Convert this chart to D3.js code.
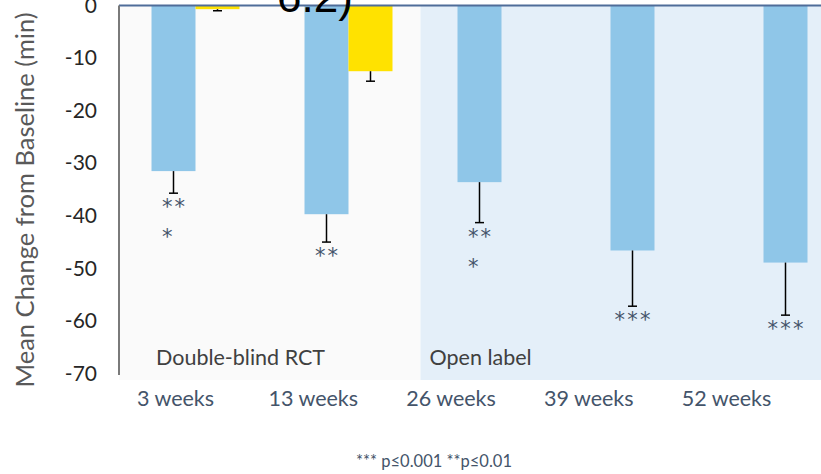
<!DOCTYPE html>
<html>
<head>
<meta charset="utf-8">
<script src="https://cdn.jsdelivr.net/npm/d3@7"></script>
<style>
  html, body { margin: 0; padding: 0; background: #ffffff; }
  svg { display: block; }
  text { font-family: Lato, "Open Sans", sans-serif; }
</style>
</head>
<body>
<svg id="chart" width="821" height="474"></svg>
<script>
// Mean change from baseline (minutes), by visit
const categories = ["3 weeks", "13 weeks", "26 weeks", "39 weeks", "52 weeks"];
const seriesKeys = ["active", "placebo"];
const activeMean = [-31.5, -39.7, -33.6, -46.6, -48.9];
const activeErr  = [4.2, 5.3, 7.7, 10.6, 10.0];
const placeboMean = [-0.7, -12.5, null, null, null];
const placeboErr  = [0.3, 1.9, null, null, null];
// significance markers under each active bar (one entry per text line)
const sigLines = [["**", "*"], ["**"], ["**", "*"], ["***"], ["***"]];
const yTicks = [0, -10, -20, -30, -40, -50, -60, -70];
const phaseLabels = ["Double-blind RCT", "Open label"];
const phaseStarts = ["3 weeks", "26 weeks"];
const footnote = "*** p≤0.001 **p≤0.01";
const titleTail = "6.2)";
const yTitle = "Mean Change from Baseline (min)";

const colors = { active: "#8fc6e8", placebo: "#ffe200" };
const phaseFill = ["#fafafa", "#e4eff9"];

const svg = d3.select("#chart");
const W = 821;

// plot frame (continues past the right edge of the view)
const plotLeft = 119, plotTop = 5.5, plotBottom = 373.5, bgBottom = 380;
const step = 153;

const x = d3.scaleBand()
  .domain(categories)
  .range([plotLeft, plotLeft + step * categories.length])
  .paddingInner(65 / step)
  .paddingOuter(32.5 / step);

const xs = d3.scaleBand()
  .domain(seriesKeys)
  .range([0, x.bandwidth()]);

const y = d3.scaleLinear().domain([0, -70]).range([plotTop, plotBottom]);

// label row under the plot
const xLab = d3.scalePoint().domain(categories).range([175, 726]);

// phase backgrounds
const phaseEdges = phaseStarts.map((c, i) => i === 0 ? plotLeft : x(c) - 37);
svg.append("g").selectAll("rect")
  .data(phaseEdges)
  .join("rect")
  .attr("x", d => d)
  .attr("y", plotTop)
  .attr("width", (d, i) => (i + 1 < phaseEdges.length ? phaseEdges[i + 1] : W + 50) - d)
  .attr("height", bgBottom - plotTop)
  .attr("fill", (d, i) => phaseFill[i]);

// phase labels
svg.append("g").selectAll("text")
  .data(phaseLabels)
  .join("text")
  .attr("x", (d, i) => phaseEdges[i] + (i === 0 ? 37 : 9))
  .attr("y", 365)
  .attr("font-size", 21.5)
  .attr("fill", "#404040")
  .text(d => d);

// bars
const rows = categories.map((c, i) => ({
  cat: c,
  values: [
    { key: "active", v: activeMean[i], e: activeErr[i] },
    { key: "placebo", v: placeboMean[i], e: placeboErr[i] }
  ].filter(d => d.v !== null)
}));

const groups = svg.append("g").selectAll("g")
  .data(rows)
  .join("g")
  .attr("transform", d => `translate(${x(d.cat)},0)`);

groups.selectAll("rect")
  .data(d => d.values)
  .join("rect")
  .attr("x", d => xs(d.key))
  .attr("y", y(0))
  .attr("width", xs.bandwidth())
  .attr("height", d => y(d.v) - y(0))
  .attr("fill", d => colors[d.key]);

// downward error bars
const eb = groups.selectAll("g.err")
  .data(d => d.values)
  .join("g")
  .attr("class", "err")
  .attr("transform", d => `translate(${xs(d.key) + xs.bandwidth() / 2},0)`);
eb.append("line")
  .attr("x1", 0).attr("x2", 0)
  .attr("y1", d => y(d.v)).attr("y2", d => y(d.v - d.e))
  .attr("stroke", "#000").attr("stroke-width", 1.5);
eb.append("line")
  .attr("x1", -4.5).attr("x2", 4.5)
  .attr("y1", d => y(d.v - d.e)).attr("y2", d => y(d.v - d.e))
  .attr("stroke", "#000").attr("stroke-width", 1.5);

// significance stars
const starGap = 2.2, starSize = 21;
categories.forEach((c, i) => {
  const cx = x(c) + xs("active") + xs.bandwidth() / 2;
  const y0 = y(activeMean[i] - activeErr[i]) + 21;
  const first = svg.append("text")
    .attr("x", cx + starGap / 2)
    .attr("y", y0)
    .attr("text-anchor", "middle")
    .attr("font-size", starSize)
    .attr("letter-spacing", starGap)
    .attr("fill", "#44546a")
    .style("font-family", "'DejaVu Sans', sans-serif")
    .text(sigLines[i][0]);
  const w = first.node().getComputedTextLength();
  sigLines[i].slice(1).forEach((t, k) => {
    svg.append("text")
      .attr("x", cx - w / 2 + starGap / 2)
      .attr("y", y0 + 30 * (k + 1))
      .attr("font-size", starSize)
      .attr("letter-spacing", starGap)
      .attr("fill", "#44546a")
      .style("font-family", "'DejaVu Sans', sans-serif")
      .text(t);
  });
});

// zero line along the top of the plot
svg.append("line")
  .attr("x1", plotLeft).attr("x2", W)
  .attr("y1", y(0)).attr("y2", y(0))
  .attr("stroke", "#4f6d99").attr("stroke-width", 2);

// value axis
const yAxis = svg.append("g")
  .attr("transform", `translate(${plotLeft},0)`)
  .call(d3.axisLeft(y).tickValues(yTicks).tickSize(0).tickPadding(22).tickFormat(d => String(d)));
yAxis.select(".domain")
  .attr("stroke", "#7a7a7a").attr("stroke-width", 2)
  .attr("d", `M0,${y(0)}V${y(-70) + 1.5}`);
yAxis.selectAll("text")
  .attr("font-size", 21)
  .attr("fill", "#262626")
  .style("font-family", "Lato, sans-serif");

// category labels
const xAxis = svg.append("g")
  .attr("transform", `translate(0,${plotBottom})`)
  .call(d3.axisBottom(xLab).tickSize(0));
xAxis.select(".domain").remove();
xAxis.selectAll("text")
  .attr("y", 32.5)
  .attr("dy", null)
  .attr("font-size", 21.5)
  .attr("fill", "#44546a")
  .style("font-family", "Lato, sans-serif");

// axis title
svg.append("text")
  .attr("transform", "translate(34,200) rotate(-90)")
  .attr("text-anchor", "middle")
  .attr("font-size", 25.5)
  .attr("fill", "#595959")
  .text(yTitle);

// footnote
svg.append("text")
  .attr("x", 434)
  .attr("y", 467)
  .attr("text-anchor", "middle")
  .attr("font-size", 16.5)
  .attr("fill", "#44546a")
  .text(footnote);

// tail of the heading running off the top edge
svg.append("text")
  .attr("x", 277)
  .attr("y", 12)
  .attr("font-size", 44)
  .attr("fill", "#000")
  .style("font-family", "'Liberation Sans', Arial, sans-serif")
  .text(titleTail);
</script>
</body>
</html>
